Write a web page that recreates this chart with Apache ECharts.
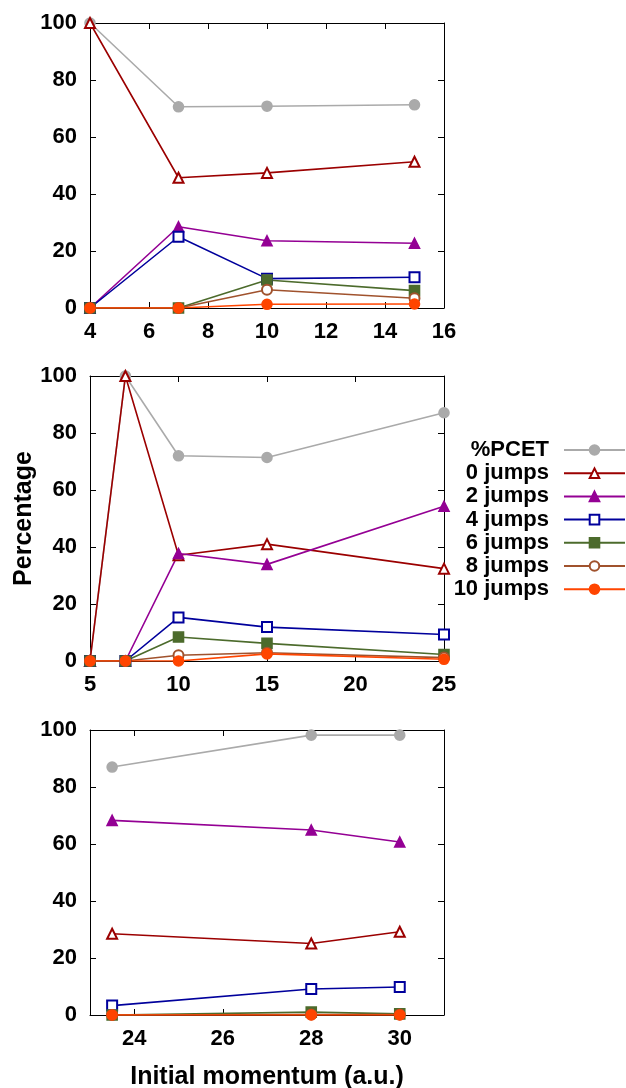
<!DOCTYPE html>
<html>
<head>
<meta charset="utf-8">
<script src="https://cdn.jsdelivr.net/npm/echarts@6/dist/echarts.min.js"></script>
<style>
html,body{margin:0;padding:0;background:#fff;}
#chart{width:626px;height:1088px;}
</style>
</head>
<body>
<div id="chart"></div>
<script>
// ---------- data ----------
var seriesNames = ['%PCET', '0 jumps', '2 jumps', '4 jumps', '6 jumps', '8 jumps', '10 jumps'];

var xA = [4, 7, 10, 15];
var pcetA = [100, 70.6, 70.8, 71.3];
var j0A = [100, 45.7, 47.4, 51.3];
var j2A = [0, 28.5, 23.6, 22.7];
var j4A = [0, 25.0, 10.3, 10.8];
var j6A = [0, 0, 9.8, 6.1];
var j8A = [0, 0, 6.4, 3.4];
var j10A = [0, 0, 1.3, 1.4];

var xB = [5, 7, 10, 15, 25];
var pcetB = [0, 100, 72.0, 71.4, 87.1];
var j0B = [0, 100, 37.1, 41.0, 32.4];
var j2B = [0, 0, 37.7, 33.9, 54.3];
var j4B = [0, 0, 15.3, 11.9, 9.3];
var j6B = [0, 0, 8.4, 6.2, 2.3];
var j8B = [0, 0, 2.0, 2.9, 1.2];
var j10B = [0, 0, 0, 2.5, 0.6];

var xC = [23.5, 28, 30];
var pcetC = [87.0, 98.2, 98.2];
var j0C = [28.5, 25.1, 29.2];
var j2C = [68.3, 64.9, 60.7];
var j4C = [3.3, 9.1, 9.8];
var j6C = [0, 1.0, 0.4];
var j8C = [0, 0.2, 0.2];
var j10C = [0, 0, 0];

var yTicks = [0, 20, 40, 60, 80, 100];
var xTicksC = [24, 26, 28, 30];

// ---------- styles ----------
var colors = ['#aaaaaa', '#9b0000', '#940094', '#00009c', '#4c6b2c', '#a0522d', '#ff4500'];
var symbols = ['circle', 'emptyTriangle', 'triangle', 'emptyRect', 'rect', 'emptyCircle', 'circle'];
var symSizes = [10, 10, 10, 10, 10, 10, 10];
var FONT = 'Liberation Sans';

var panels = [
  {x: xA, ys: [pcetA, j0A, j2A, j4A, j6A, j8A, j10A]},
  {x: xB, ys: [pcetB, j0B, j2B, j4B, j6B, j8B, j10B]},
  {x: xC, ys: [pcetC, j0C, j2C, j4C, j6C, j8C, j10C]}
];

var tops = [23, 376, 730];
var grids = tops.map(function (t) {
  return {left: 90, top: t, width: 354, height: 285, outerBoundsMode: 'none', containLabel: false};
});

var labelStyle = {color: '#000', fontFamily: FONT, fontWeight: 'bold', fontSize: 22};
var lineStyleAxis = {show: true, onZero: false, lineStyle: {color: '#000', width: 1}};
var tickIn = {show: true, inside: true, length: 6, lineStyle: {color: '#000', width: 1}};

var xSpecs = [
  {min: 4, max: 16, interval: 2},
  {min: 5, max: 25, interval: 5},
  {min: 23, max: 31, custom: xTicksC}
];

var xAxes = [], yAxes = [];
xSpecs.forEach(function (s, i) {
  [false, true].forEach(function (mirror) {
    var ax = {
      type: 'value', gridIndex: i, min: s.min, max: s.max,
      position: mirror ? 'top' : 'bottom',
      axisLine: lineStyleAxis,
      axisTick: Object.assign({}, tickIn),
      splitLine: {show: false},
      axisLabel: mirror ? {show: false} : Object.assign({margin: 13}, labelStyle)
    };
    if (s.interval) ax.interval = s.interval;
    if (s.custom) {
      ax.axisTick.customValues = s.custom;
      if (!mirror) ax.axisLabel.customValues = s.custom;
    }
    if (!mirror && i === 2) {
      ax.name = 'Initial momentum (a.u.)';
      ax.nameLocation = 'middle';
      ax.nameGap = 50;
      ax.nameMoveOverlap = false;
      ax.nameTextStyle = {color: '#000', fontFamily: FONT, fontWeight: 'bold', fontSize: 25};
    }
    xAxes.push(ax);
  });
  [false, true].forEach(function (mirror) {
    var ay = {
      type: 'value', gridIndex: i, min: yTicks[0], max: yTicks[yTicks.length - 1], interval: yTicks[1] - yTicks[0],
      position: mirror ? 'right' : 'left',
      axisLine: lineStyleAxis,
      axisTick: tickIn,
      splitLine: {show: false},
      axisLabel: mirror ? {show: false} : Object.assign({margin: 13}, labelStyle)
    };
    if (!mirror && i === 1) {
      ay.name = 'Percentage';
      ay.nameLocation = 'middle';
      ay.nameGap = 53;
      ay.nameMoveOverlap = false;
      ay.nameTextStyle = {color: '#000', fontFamily: FONT, fontWeight: 'bold', fontSize: 25};
    }
    yAxes.push(ay);
  });
});

var series = [];
panels.forEach(function (p, pi) {
  p.ys.forEach(function (ys, si) {
    series.push({
      type: 'line', name: seriesNames[si],
      xAxisIndex: pi * 2, yAxisIndex: pi * 2,
      data: p.x.map(function (xv, k) { return [xv, ys[k]]; }),
      symbol: symbols[si], symbolSize: symSizes[si],
      showAllSymbol: true,
      lineStyle: {color: colors[si], width: 1.6},
      itemStyle: {color: colors[si], borderColor: colors[si], borderWidth: 1.6},
      emphasis: {disabled: true},
      animation: false
    });
  });
});

var chart = echarts.init(document.getElementById('chart'), null, {renderer: 'canvas'});
chart.setOption({
  backgroundColor: '#fff',
  animation: false,
  grid: grids,
  xAxis: xAxes,
  yAxis: yAxes,
  legend: {
    data: seriesNames,
    orient: 'vertical',
    right: 0,
    top: 439,
    align: 'right',
    padding: 0,
    itemWidth: 61,
    itemHeight: 12,
    itemGap: 1.2,
    selectedMode: false,
    textStyle: {color: '#000', fontFamily: FONT, fontWeight: 'bold', fontSize: 22, lineHeight: 16, padding: [0, 10, 0, 0]}
  },
  series: series
});
</script>
</body>
</html>
